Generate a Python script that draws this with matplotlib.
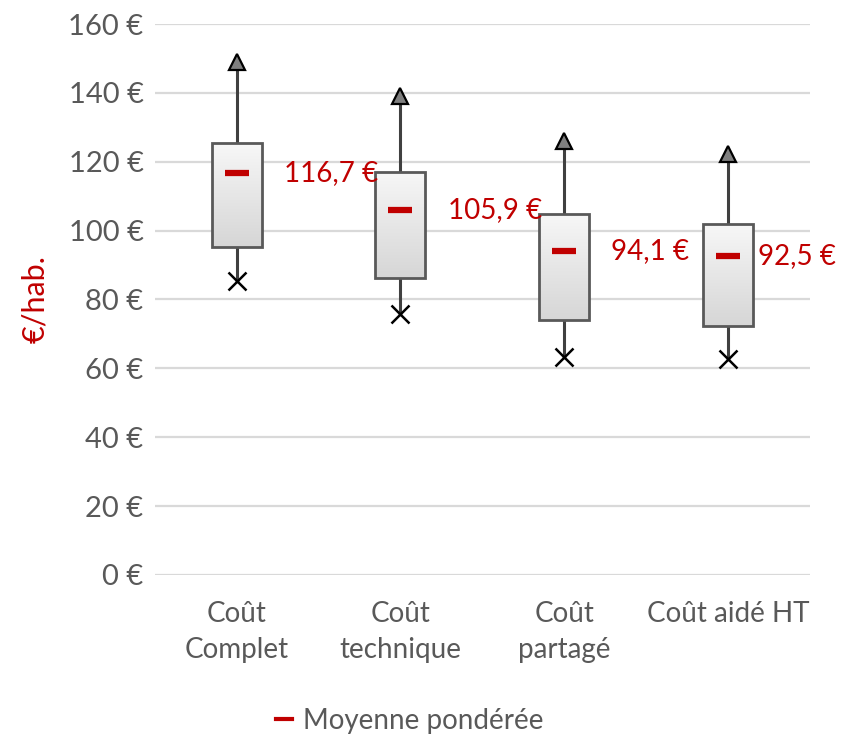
import numpy as np
import matplotlib
matplotlib.use("Agg")
import matplotlib.pyplot as plt
from matplotlib.lines import Line2D
from matplotlib.colors import LinearSegmentedColormap

plt.rcParams['font.family'] = ['Lato', 'DejaVu Sans']

categories = ["Coût\nComplet", "Coût\ntechnique", "Coût\npartagé", "Coût aidé HT"]
q1 = [95.1, 86.2, 73.9, 72.4]
q3 = [125.3, 117.0, 104.9, 101.9]
vmax = [149.0, 139.0, 126.0, 122.2]
vmin = [85.4, 75.8, 63.2, 62.6]
means = [116.7, 105.9, 94.1, 92.5]
mean_labels = ["116,7 €", "105,9 €", "94,1 €", "92,5 €"]
yticks = [0, 20, 40, 60, 80, 100, 120, 140, 160]
ytick_labels = [f"{v} €" for v in yticks]

red = "#c00000"
grey_txt = "#595959"
fs = 20

fig = plt.figure(figsize=(8.5, 7.39), dpi=100)
ax = fig.add_axes([0.182, 0.222, 0.771, 0.7455])
x = np.arange(len(categories))

ax.set_yticks(yticks)
ax.set_yticklabels(ytick_labels, fontsize=21, color=grey_txt)
ax.set_xticks(x)
ax.set_xticklabels(categories, fontsize=fs, color=grey_txt, linespacing=1.45)
ax.tick_params(axis='both', length=0)
ax.tick_params(axis='y', pad=8)
ax.tick_params(axis='x', pad=19)
for s in ax.spines.values():
    s.set_visible(False)
ax.yaxis.grid(True, color="#d9d9d9", lw=1.6)
ax.set_axisbelow(True)

box_w = 0.305
ax.vlines(x, q3, vmax, color="#404040", lw=2.2, zorder=2)
ax.vlines(x, vmin, q1, color="#404040", lw=2.2, zorder=2)

grad = np.linspace(0, 1, 256).reshape(-1, 1)
cmap = LinearSegmentedColormap.from_list("g", ["#d6d6d6", "#f7f7f7"])
bars = ax.bar(x, np.array(q3) - np.array(q1), bottom=q1, width=box_w,
              facecolor="none", edgecolor="#595959", linewidth=2.0, zorder=4)
for b in bars:
    bx, by = b.get_x(), b.get_y()
    bw, bh = b.get_width(), b.get_height()
    im = ax.imshow(grad, cmap=cmap, extent=[bx, bx + bw, by, by + bh],
                   origin='lower', aspect='auto', zorder=3, interpolation='bilinear')
    im.set_clip_path(b)
ax.set_xlim(-0.5, len(categories) - 0.5)
ax.set_ylim(0, 160)

ax.plot(x, vmax, linestyle='none', marker='^', markersize=12,
        markerfacecolor="#7f7f7f", markeredgecolor="#000000", markeredgewidth=1.6, zorder=5)
ax.plot(x, vmin, linestyle='none', marker='x', markersize=13,
        color="#000000", markeredgewidth=1.8, zorder=5)
ax.plot(x, means, linestyle='none', marker='_', markersize=17,
        color=red, markeredgewidth=4.5, zorder=6)

offsets = [0.29, 0.29, 0.285, 0.18]
for xi, m, lab, off in zip(x, means, mean_labels, offsets):
    ax.text(xi + off, m, lab, color=red, fontsize=fs, va='center', ha='left', zorder=7)

ax.set_ylabel("€/hab.", color=red, fontsize=22, labelpad=14)

handle = Line2D([], [], color=red, lw=3)
fig.legend([handle], ["Moyenne pondérée"], loc='center', bbox_to_anchor=(0.482, 0.025),
           frameon=False, fontsize=fs, handlelength=0.6, handletextpad=0.4,
           labelcolor=grey_txt)

fig.savefig("out.png", dpi=100)
